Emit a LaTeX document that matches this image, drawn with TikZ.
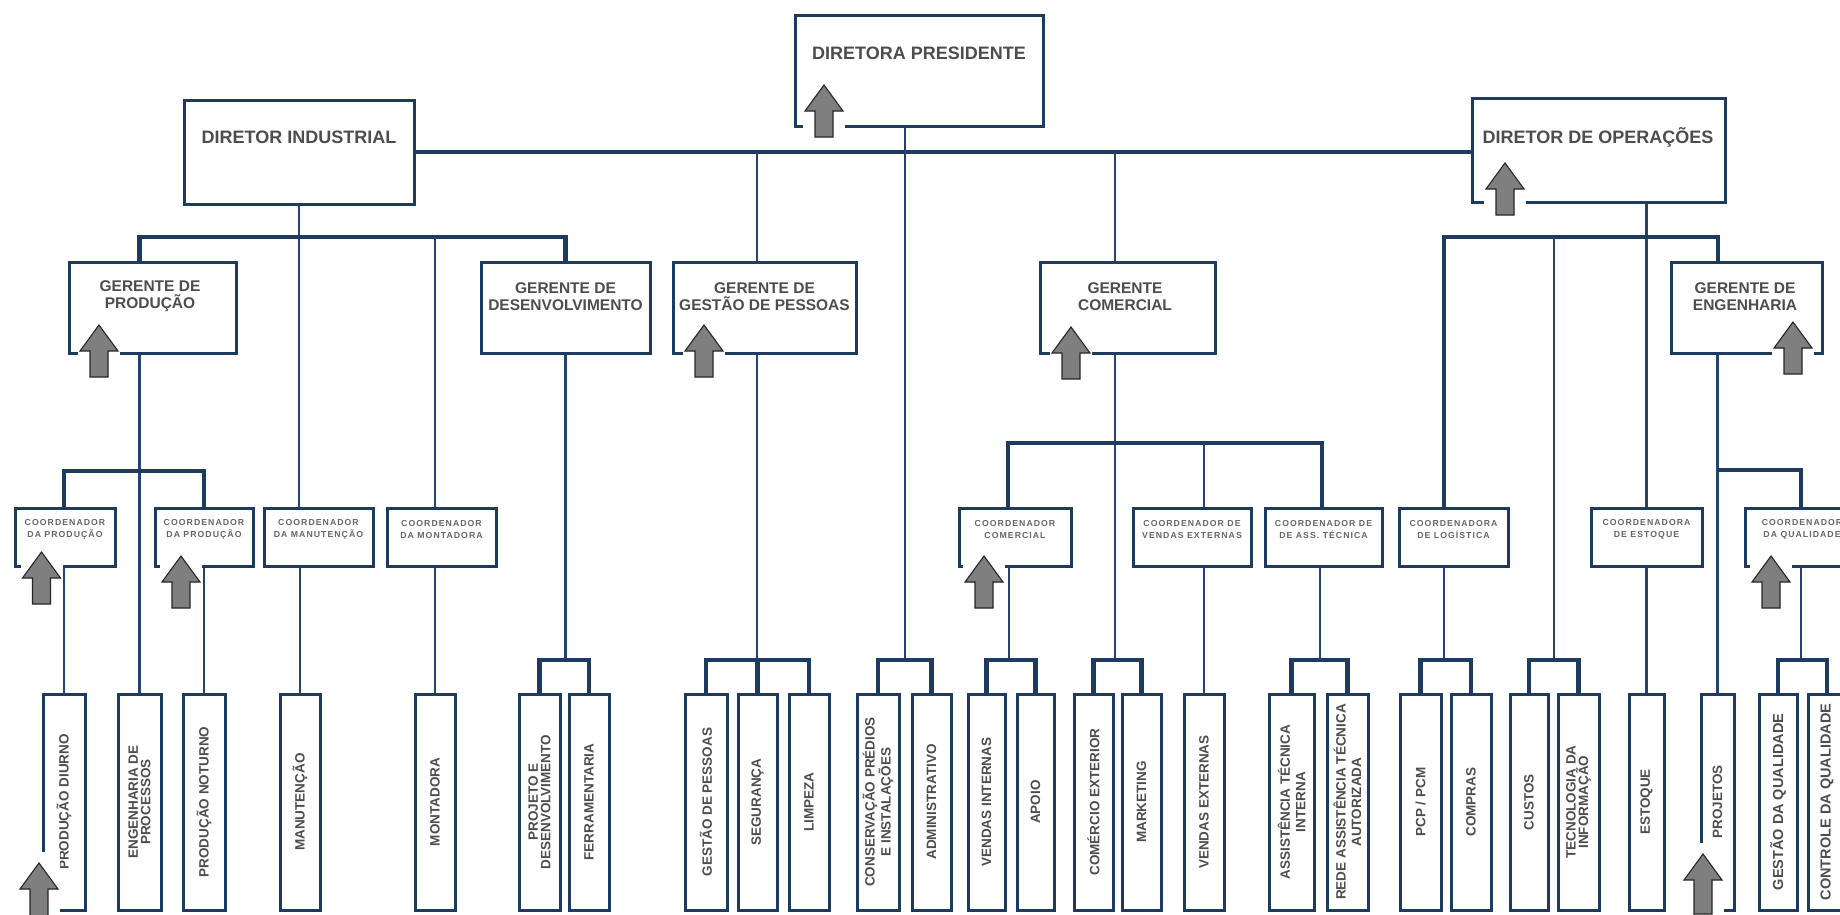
\documentclass[tikz,border=0pt]{standalone}
\usepackage{fontspec}
\setmainfont{Liberation Sans}
\newfontfamily\spacedfont[LetterSpace=12]{Liberation Sans}
\usetikzlibrary{calc}

\definecolor{boxblue}{HTML}{1E3A5F}
\definecolor{lineblue}{HTML}{24446E}
\definecolor{labelgray}{HTML}{4D4D4D}
\definecolor{smallgray}{HTML}{666666}
\definecolor{arrowgray}{HTML}{7F7F7F}

\tikzset{
  box/.style={draw=boxblue, line width=3pt, fill=white, inner sep=0pt},
  tall/.style={box, rotate=90, minimum width=216, align=center, text=labelgray,
    font=\bfseries\fontsize{13.5}{12.5}\selectfont},
  widelines/.style={font=\bfseries\fontsize{13.5}{15.5}\selectfont},
  bigtext/.style={font=\bfseries\fontsize{14.5}{15}\selectfont},
  ln/.style={draw=lineblue, line width=2.5pt},
  mid/.style={draw=boxblue, line width=3.4pt},
  bar/.style={draw=boxblue, line width=4.6pt},
  head/.style={text=labelgray, inner sep=0pt, font=\bfseries\fontsize{18}{20}\selectfont},
  mgr/.style={text=labelgray, inner sep=0pt, align=center, font=\bfseries\fontsize{15.5}{17}\selectfont},
  crd/.style={text=smallgray, inner sep=0pt, align=center, font=\spacedfont\bfseries\fontsize{8.7}{12}\selectfont},
  uparrow/.style={fill=arrowgray, draw=black!85, line width=1.1pt, line join=miter}
}

% box from its corners: name, x1, y1, x2, y2
\newcommand\obox[5]{\node[box, minimum width={#4-#2}, minimum height={#5-#3}] (#1) at ({(#2+#4)/2},{(#3+#5)/2}) {};}
% tall box with upright text: [extra options], name, x1, x2, text
\newcommand\tallbox[5][]{\node[tall, #1, minimum height={#4-#3}] (#2) at ({(#3+#4)/2},802) {#5};}
% grey up arrow with its white clearance: centre x, tip y, length, clearance above tip
\newcommand\grayarrow[4]{%
  \fill[white] ({#1-21},{#2-#4}) rectangle ({#1+21},{#2+#3+2});
  \draw[uparrow] ({#1-9},{#2+#3}) -- ({#1-9},{#2+26}) -- ({#1-19},{#2+26}) -- (#1,#2)
    -- ({#1+19},{#2+26}) -- ({#1+9},{#2+26}) -- ({#1+9},{#2+#3}) -- cycle;}

\begin{document}
\begin{tikzpicture}[x=1pt, y=-1pt, line join=miter]
\clip (0,0) rectangle (1840,914);
\useasboundingbox (0,0) rectangle (1840,914);
\fill[white] (0,0) rectangle (1840,914);

% ---------- boxes ----------
\obox{pres}{795}{15}{1043}{126}
\obox{ind}{184}{100}{414}{204}
\obox{ops}{1472}{98}{1725}{202}

\obox{gprod}{69}{262}{236}{353}
\obox{gdes}{481}{262}{650}{353}
\obox{gpes}{673}{262}{856}{353}
\obox{gcom}{1040}{262}{1215}{353}
\obox{geng}{1671}{262}{1822}{353}

\obox{cp1}{15}{508}{115}{566}
\obox{cp2}{155}{508}{253}{566}
\obox{cman}{264}{508}{373}{566}
\obox{cmont}{387}{508}{496}{566}
\obox{ccom}{959}{508}{1071}{566}
\obox{cvext}{1133}{508}{1251}{566}
\obox{cass}{1265}{508}{1382}{566}
\obox{clog}{1399}{508}{1508}{566}
\obox{cest}{1591}{508}{1702}{566}
\obox{cqual}{1745}{508}{1862}{566}

\tallbox{pdiurno}{43}{85}{PRODUÇÃO DIURNO}
\tallbox{engproc}{118}{161}{ENGENHARIA DE\\PROCESSOS}
\tallbox{pnot}{183}{225}{PRODUÇÃO NOTURNO}
\tallbox{man}{280}{320}{MANUTENÇÃO}
\tallbox{mont}{415}{455}{MONTADORA}
\tallbox{projdes}{519}{560}{PROJETO E\\DESENVOLVIMENTO}
\tallbox{ferr}{569}{609}{FERRAMENTARIA}
\tallbox{gpess}{685}{727}{GESTÃO DE PESSOAS}
\tallbox{seg}{738}{777}{SEGURANÇA}
\tallbox{limp}{789}{829}{LIMPEZA}
\tallbox{cons}{857}{899}{CONSERVAÇÃO PRÉDIOS\\E INSTALAÇÕES}
\tallbox{adm}{912}{951}{ADMINISTRATIVO}
\tallbox{vint}{968}{1005}{VENDAS INTERNAS}
\tallbox{apoio}{1017}{1054}{APOIO}
\tallbox{comext}{1074}{1113}{COMÉRCIO EXTERIOR}
\tallbox{mkt}{1122}{1161}{MARKETING}
\tallbox{vext}{1184}{1224}{VENDAS EXTERNAS}
\tallbox[widelines]{ati}{1269}{1314}{ASSISTÊNCIA TÉCNICA\\INTERNA}
\tallbox[widelines]{rede}{1327}{1368}{REDE ASSISTÊNCIA TÉCNICA\\AUTORIZADA}
\tallbox{pcp}{1400}{1441}{PCP / PCM}
\tallbox{compras}{1451}{1491}{COMPRAS}
\tallbox{custos}{1510}{1548}{CUSTOS}
\tallbox{ti}{1558}{1599}{TECNOLOGIA DA\\INFORMAÇÃO}
\tallbox{est}{1629}{1664}{ESTOQUE}
\tallbox{proj}{1701}{1734}{PROJETOS}
\tallbox[bigtext]{gq}{1759}{1797}{GESTÃO DA QUALIDADE}
\tallbox[bigtext]{cq}{1808}{1846}{CONTROLE DA QUALIDADE}

% ---------- junction points ----------
\coordinate (tpes) at (757,152);
\coordinate (tcom) at (1115,152);
\coordinate (bpres) at (905,660);
\coordinate (bpes) at (757,660);
\coordinate (bcom) at (1115,660);
\coordinate (dccom) at (1008,443);
\coordinate (dcvext) at (1204,443);
\coordinate (dcass) at (1322,443);
\coordinate (bccom) at (1009,660);
\coordinate (bcass) at (1320,660);
\coordinate (dgprod) at (139.5,237);
\coordinate (dgdes) at (565.5,237);
\coordinate (dcmont) at (435,237);
\coordinate (bgprod) at (139.5,471);
\coordinate (bgdes) at (565.5,660);
\coordinate (dclog) at (1444,237);
\coordinate (dgeng) at (1718,237);
\coordinate (dcus) at (1554,237);
\coordinate (bcus) at (1554,660);
\coordinate (bclog) at (1444,660);
\coordinate (bgeng) at (1717.5,470);
\coordinate (dcq) at (1801,470);
\coordinate (bcqual) at (1801,660);

% ---------- connectors ----------
% top level
\draw[mid] (ind.east) -- (ind.east -| ops.west);
\draw[ln] (pres.south -| bpres) -- (bpres);
\draw[bar] (cons.east) |- (bpres) -| (adm.east);

% people management
\draw[ln] (tpes) -- (tpes |- gpes.north);
\draw[ln] (gpes.south -| bpes) -- (bpes);
\draw[bar] (gpess.east) |- (bpes) -| (limp.east);
\draw[bar] (seg.east) -- (seg.east |- bpes);

% commercial
\draw[ln] (tcom) -- (tcom |- gcom.north);
\draw[ln] (gcom.south -| bcom) -- (bcom);
\draw[mid] (ccom.north -| dccom) -- (dccom) -- (dcass) -- (cass.north -| dcass);
\draw[ln] (dcvext) -- (cvext.north -| dcvext);
\draw[bar] (comext.east) |- (bcom) -| (mkt.east);
\draw[ln] (ccom.south -| bccom) -- (bccom);
\draw[bar] (vint.east) |- (bccom) -| (apoio.east);
\draw[ln] (cvext.south -| vext.east) -- (vext.east);
\draw[ln] (cass.south -| bcass) -- (bcass);
\draw[bar] (ati.east) |- (bcass) -| (rede.east);

% industrial
\draw[ln] (ind.south) -- (ind.south |- cman.north);
\draw[bar] (gprod.north -| dgprod) -- (dgprod) -- (dgdes) -- (gdes.north -| dgdes);
\draw[ln] (dcmont) -- (cmont.north -| dcmont);
\draw[ln] (cman.south -| man.east) -- (man.east);
\draw[ln] (cmont.south -| mont.east) -- (mont.east);
\draw[ln] (gprod.south -| engproc.east) -- (engproc.east);
\draw[bar] (cp1.north -| pdiurno.east) |- (bgprod) -| (cp2.north -| pnot.east);
\draw[ln] (cp1.south -| pdiurno.east) -- (pdiurno.east);
\draw[ln] (cp2.south -| pnot.east) -- (pnot.east);
\draw[ln] (gdes.south -| bgdes) -- (bgdes);
\draw[bar] (projdes.east) |- (bgdes) -| (ferr.east);

% operations
\draw[ln] (ops.south -| cest.north) -- (cest.north);
\draw[mid] (clog.north -| dclog) |- (dgeng) -- (geng.north -| dgeng);
\draw[ln] (dcus) -- (bcus);
\draw[bar] (custos.east) |- (bcus) -| (ti.east);
\draw[ln] (clog.south -| bclog) -- (bclog);
\draw[bar] (pcp.east) |- (bclog) -| (compras.east);
\draw[ln] (cest.south -| est.east) -- (est.east);
\draw[ln] (geng.south -| proj.east) -- (proj.east);
\draw[bar] (bgeng) -- (dcq) -- (cqual.north -| dcq);
\draw[ln] (cqual.south -| bcqual) -- (bcqual);
\draw[bar] (gq.east) |- (bcqual) -| (cq.east);

% ---------- grey arrows ----------
\grayarrow{824}{85}{52}{4}
\grayarrow{1505}{163}{52}{4}
\grayarrow{99}{325}{52}{4}
\grayarrow{704}{325}{52}{4}
\grayarrow{1071}{327}{52}{4}
\grayarrow{1793}{322}{52}{4}
\grayarrow{41.5}{552}{52}{4}
\grayarrow{181}{556}{52}{4}
\grayarrow{984}{556}{52}{4}
\grayarrow{1771}{556}{52}{4}
\grayarrow{39}{863}{60}{11}
\grayarrow{1703}{854}{60}{11}

% ---------- box titles ----------
\node[head] (pres-t) at (919,53) {DIRETORA PRESIDENTE};
\node[head] (ind-t) at (299,137) {DIRETOR INDUSTRIAL};
\node[head] (ops-t) at (1598,137) {DIRETOR DE OPERAÇÕES};

\node[mgr] (gprod-t) at (150,296.5) {GERENTE DE\\PRODUÇÃO};
\node[mgr] (gdes-t) at (565.5,296.5) {GERENTE DE\\DESENVOLVIMENTO};
\node[mgr] (gpes-t) at (764.5,296.5) {GERENTE DE\\GESTÃO DE PESSOAS};
\node[mgr] (gcom-t) at (1125,296.5) {GERENTE\\COMERCIAL};
\node[mgr] (geng-t) at (1745,296.5) {GERENTE DE\\ENGENHARIA};

\node[crd] (cp1-t) at (65,529) {COORDENADOR\\DA PRODUÇÃO};
\node[crd] (cp2-t) at (204,529) {COORDENADOR\\DA PRODUÇÃO};
\node[crd] (cman-t) at (318.5,529) {COORDENADOR\\DA MANUTENÇÃO};
\node[crd] (cmont-t) at (441.5,529) {COORDENADOR\\DA MONTADORA};
\node[crd] (ccom-t) at (1015,529) {COORDENADOR\\COMERCIAL};
\node[crd] (cvext-t) at (1192,529) {COORDENADOR DE\\VENDAS EXTERNAS};
\node[crd] (cass-t) at (1323.5,529) {COORDENADOR DE\\DE ASS. TÉCNICA};
\node[crd] (clog-t) at (1453.5,529) {COORDENADORA\\DE LOGÍSTICA};
\node[crd] (cest-t) at (1646.5,529) {COORDENADORA\\DE ESTOQUE};
\node[crd] (cqual-t) at (1802,529) {COORDENADOR\\DA QUALIDADE};
\end{tikzpicture}
\end{document}
